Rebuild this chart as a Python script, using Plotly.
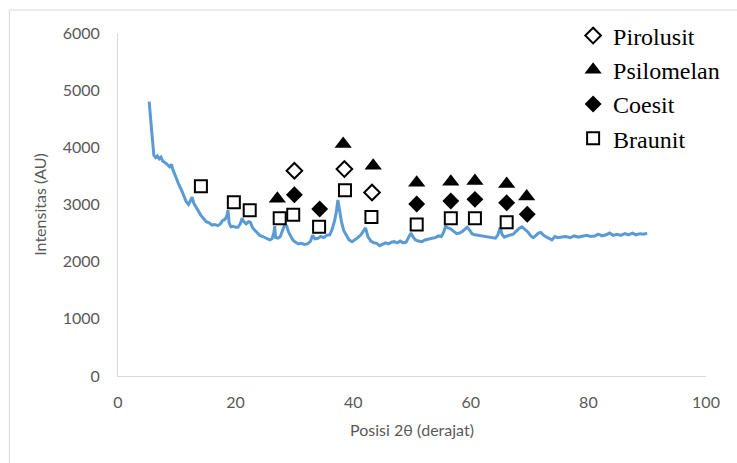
import plotly.graph_objects as go

# XRD pattern
pattern_x = [5.3, 5.5, 5.8, 6.1, 6.4, 6.7, 7.0, 7.3, 7.6, 7.9, 8.2, 8.5, 8.8, 9.1, 9.3, 9.6, 9.9, 10.3, 10.8,
             11.2, 11.6, 12.0, 12.3, 12.6, 12.9, 13.3, 13.7, 14.1, 14.6, 15.0, 15.5, 16.0, 16.5, 17.0, 17.4,
             17.8, 18.2, 18.5, 18.7, 18.9, 19.2, 19.6, 20.0, 20.4, 20.8, 21.1, 21.4, 21.8, 22.2, 22.5, 22.9,
             23.3, 23.7, 24.1, 24.6, 25.0, 25.4, 25.8, 26.2, 26.5, 26.65, 26.8, 27.2, 27.6, 28.0, 28.4, 28.7,
             29.0, 29.4, 29.8, 30.2, 30.7, 31.2, 31.7, 32.2, 32.7, 33.1, 33.5, 34.0, 34.5, 35.0, 35.5, 36.0,
             36.4, 36.8, 37.1, 37.4, 37.7, 38.0, 38.4, 38.8, 39.3, 39.8, 40.3, 40.8, 41.3, 41.8, 42.1, 42.5,
             43.0, 43.5, 44.0, 44.5, 45.0, 45.5, 46.0, 46.5, 47.0, 47.5, 48.0, 48.5, 49.0, 49.5, 49.8, 50.2,
             50.6, 51.1, 51.7, 52.2, 52.8, 53.4, 54.0, 54.5, 55.0, 55.4, 55.7, 56.1, 56.5, 57.0, 57.6, 58.1,
             58.6, 59.0, 59.4, 59.8, 60.2, 60.7, 61.3, 61.9, 62.5, 63.1, 63.7, 64.2, 64.6, 65.0, 65.3, 65.7,
             66.2, 66.7, 67.2, 67.7, 68.2, 68.7, 69.2, 69.7, 70.2, 70.6, 71.0, 71.5, 71.9, 72.4, 72.9, 73.4,
             73.8, 74.3, 74.8, 75.5, 76.2, 76.9, 77.6, 78.3, 79.0, 79.7, 80.4, 81.1, 81.7, 82.3, 83.0, 83.6,
             84.2, 84.9, 85.5, 86.2, 86.8, 87.5, 88.1, 88.8, 89.4, 90.0]
pattern_y = [4800, 4600, 4200, 3860, 3820, 3850, 3800, 3830, 3760, 3740, 3720, 3690, 3660, 3700, 3620, 3530, 3450, 3360, 3250,
             3150, 3050, 3000, 3060, 3130, 3020, 2950, 2870, 2810, 2750, 2700, 2680, 2640, 2650, 2630, 2660,
             2720, 2740, 2800, 2900, 2680, 2610, 2620, 2600, 2600, 2660, 2760, 2700, 2660, 2700, 2690, 2590,
             2540, 2500, 2460, 2440, 2420, 2400, 2380, 2400, 2500, 2620, 2420, 2410, 2440, 2550, 2660, 2620,
             2520, 2440, 2370, 2340, 2310, 2320, 2300, 2310, 2350, 2460, 2400, 2410, 2440, 2420, 2460, 2470,
             2560, 2700, 2850, 3080, 2900, 2700, 2540, 2460, 2380, 2350, 2380, 2420, 2470, 2560, 2590, 2440,
             2360, 2330, 2320, 2280, 2300, 2330, 2310, 2340, 2350, 2330, 2360, 2330, 2340, 2440, 2500, 2430,
             2380, 2360, 2350, 2380, 2400, 2410, 2420, 2450, 2440, 2520, 2620, 2590, 2580, 2540, 2490, 2500,
             2530, 2570, 2600, 2550, 2490, 2470, 2460, 2450, 2440, 2430, 2420, 2410, 2470, 2600, 2480, 2430,
             2450, 2470, 2480, 2530, 2580, 2610, 2570, 2520, 2450, 2420, 2450, 2500, 2510, 2460, 2430, 2410,
             2380, 2440, 2420, 2430, 2440, 2420, 2450, 2430, 2440, 2460, 2440, 2450, 2480, 2450, 2470, 2500,
             2460, 2480, 2460, 2490, 2470, 2500, 2470, 2490, 2480, 2500]

pirolusit_x = [30.0, 38.5, 43.2]
pirolusit_y = [3590, 3620, 3210]
psilomelan_x = [27.1, 38.3, 43.4, 50.8, 56.6, 60.7, 66.1, 69.5]
psilomelan_y = [3100, 4060, 3680, 3380, 3400, 3410, 3360, 3140]
coesit_x = [30.0, 34.3, 50.8, 56.6, 60.7, 66.1, 69.6]
coesit_y = [3170, 2920, 3010, 3060, 3090, 3030, 2830]
braunit_x = [14.1, 19.7, 22.4, 27.5, 29.8, 34.2, 38.6, 43.1, 50.8, 56.6, 60.7, 66.1]
braunit_y = [3320, 3040, 2900, 2760, 2820, 2610, 3250, 2780, 2650, 2760, 2760, 2690]

x_ticks = [0, 20, 40, 60, 80, 100]
y_ticks = [0, 1000, 2000, 3000, 4000, 5000, 6000]

fig = go.Figure()
fig.add_trace(go.Scatter(x=pattern_x, y=pattern_y, mode="lines", showlegend=False,
                         line=dict(color="#5B9BD5", width=3)))
fig.add_trace(go.Scatter(x=pirolusit_x, y=pirolusit_y, mode="markers", name="Pirolusit", legendgroup="a",
                         marker=dict(symbol="diamond-open", size=12, color="black", line=dict(width=2, color="black"))))
fig.add_trace(go.Scatter(x=psilomelan_x, y=psilomelan_y, mode="markers", name="Psilomelan", legendgroup="b",
                         marker=dict(symbol="triangle-up", size=15, color="black")))
fig.add_trace(go.Scatter(x=coesit_x, y=coesit_y, mode="markers", name="Coesit", legendgroup="c",
                         marker=dict(symbol="diamond", size=13, color="black")))
fig.add_trace(go.Scatter(x=braunit_x, y=braunit_y, mode="markers", name="Braunit", legendgroup="d",
                         marker=dict(symbol="square-open", size=12, color="black", line=dict(width=2, color="black"))))

axis_font = dict(family="Lato", size=16, color="#595959")
fig.update_layout(
    width=737, height=463,
    margin=dict(l=118, r=29, t=33, b=87),
    paper_bgcolor="white", plot_bgcolor="white",
    font=axis_font,
    showlegend=True,
    legend=dict(x=0.774, y=1.057, xanchor="left", yanchor="top", bgcolor="rgba(0,0,0,0)",
                font=dict(family="Liberation Serif", size=24, color="black"),
                traceorder="grouped", tracegroupgap=0, itemwidth=30),
    xaxis=dict(range=[0, 100], tickvals=x_ticks, showgrid=False, zeroline=False,
               showline=True, linecolor="#d9d9d9", linewidth=1, ticks="",
               ticklabelstandoff=12, tickfont=axis_font,
               title=dict(text="Posisi 2θ (derajat)", font=axis_font, standoff=14)),
    yaxis=dict(range=[0, 6000], tickvals=y_ticks, showgrid=False, zeroline=False,
               showline=True, linecolor="#d9d9d9", linewidth=1, ticks="",
               ticklabelstandoff=14, tickfont=axis_font,
               title=dict(text="Intensitas (AU)", font=axis_font, standoff=12)),
    shapes=[dict(type="rect", xref="paper", yref="paper", x0=-0.1847, x1=1.06, y0=-0.28, y1=1.067,
                 line=dict(color="#d9d9d9", width=1), fillcolor="rgba(0,0,0,0)", layer="below")],
)

fig.write_html("out.html")
